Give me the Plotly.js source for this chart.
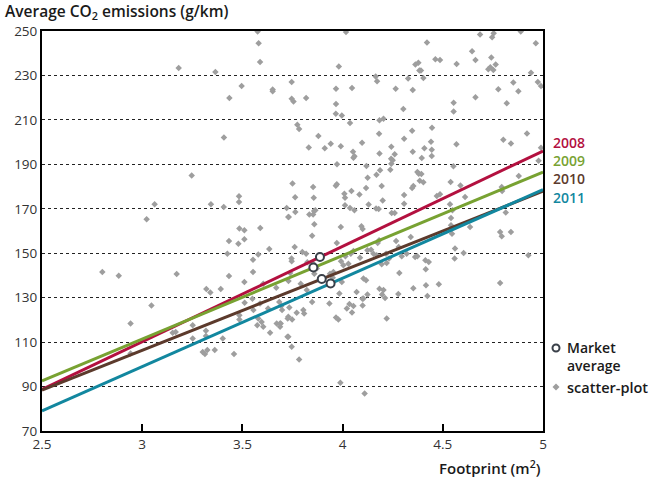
<!DOCTYPE html>
<html>
<head>
<meta charset="utf-8">
<script src="https://cdn.plot.ly/plotly-3.0.1.min.js"></script>
<style>html,body{margin:0;padding:0;background:#fff;}#chart{width:664px;height:480px;}</style>
</head>
<body>
<div id="chart"></div>
<script>
// ---- Data ----
const years = ['2008', '2009', '2010', '2011'];
const lineColors = ['#b3103f', '#78a232', '#5c3a2c', '#12879f'];
const lineX = [2.5, 5];
const line2008 = [88.7, 196.0];
const line2009 = [92.6, 186.5];
const line2010 = [88.4, 177.9];
const line2011 = [79.0, 178.6];

const marketX = [3.887, 3.854, 3.896, 3.94];
const marketY = [148.3, 143.6, 138.4, 136.4];

const scatterX = [
 3.576,3.581,3.588,3.182,3.365,3.496,3.651,3.651,3.435,3.408,3.247,3.062,3.343,3.483,3.483,3.407,3.022,3.729,
 3.485,3.510,3.589,3.433,3.480,3.510,3.634,3.425,3.579,3.553,2.801,2.883,3.172,3.433,3.553,3.510,3.604,3.320,3.340,3.392,3.669,3.046,3.550,3.511,3.588,3.628,3.684,3.694,3.734,3.729,3.555,3.485,3.485,3.579,3.596,3.574,3.604,3.671,3.691,3.688,3.638,2.942,3.252,3.152,3.167,3.318,3.318,3.252,3.325,3.302,3.313,3.362,3.402,3.458,3.729,2.942,
 4.017,4.686,4.746,4.754,4.889,4.964,4.421,4.646,4.663,4.742,4.737,4.727,4.764,4.752,4.463,4.486,4.569,4.363,4.378,4.383,4.391,4.403,4.327,3.981,4.165,4.172,3.746,3.746,3.755,3.818,3.967,4.047,4.265,4.350,4.554,4.554,4.663,4.777,4.852,4.877,4.940,4.974,4.990,4.819,3.967,3.966,3.996,4.037,4.184,4.204,4.303,4.446,4.347,4.307,4.182,3.774,3.783,3.879,3.831,3.911,3.941,3.991,4.052,4.054,4.059,4.097,4.243,4.260,4.184,4.242,4.250,4.243,4.238,4.350,4.408,4.445,4.445,4.441,4.395,4.568,4.920,4.802,4.840,4.990,4.978,4.879,4.553,4.373,4.380,4.393,4.403,4.385,4.353,4.347,3.972,4.119,4.125,4.169,4.187,4.195,4.117,3.750,3.853,3.856,3.763,3.966,3.971,4.009,4.012,4.044,4.012,4.084,4.130,4.200,4.307,4.307,4.539,4.588,4.470,4.486,4.611,4.794,4.796,4.814,3.721,3.731,3.764,3.834,3.853,3.858,3.864,4.037,4.059,4.167,4.180,4.245,4.260,4.541,4.548,4.536,
 3.859,3.848,3.991,4.094,4.100,3.971,3.761,3.799,3.818,3.745,3.746,3.824,3.854,3.859,3.871,3.937,3.954,3.951,3.992,4.004,4.014,4.029,4.041,4.054,4.087,4.104,4.117,4.124,4.142,4.154,4.170,4.175,4.182,4.195,4.220,4.217,4.232,4.267,4.280,4.283,4.295,4.320,4.340,4.362,4.373,4.413,4.430,4.415,4.416,4.423,4.480,4.353,4.541,4.546,4.561,4.559,4.604,4.636,4.786,4.794,4.840,4.786,4.927,3.738,3.730,3.791,3.821,3.848,3.698,3.726,3.748,3.771,3.804,3.808,3.688,3.934,3.967,3.979,4.021,4.034,4.047,4.054,4.070,4.099,4.100,4.124,4.184,4.204,4.197,4.220,4.212,4.278,4.104,3.725,3.746,3.783,3.989,4.110,3.984,3.996
];
const scatterY = [
 249.8,244.5,236.0,233.4,231.5,225.3,223.7,222.9,219.9,202.1,185.0,172.0,172.0,175.6,173.1,170.8,165.3,166.3,
 161.1,160.3,161.4,155.5,154.3,156.3,151.9,149.8,149.4,147.1,141.6,139.9,140.7,139.8,141.6,137.1,136.3,133.9,132.3,133.9,134.5,126.5,129.5,127.7,127.4,125.1,128.1,126.2,125.6,121.4,124.4,122.1,120.2,120.6,119.1,117.6,116.9,118.4,118.4,116.9,114.2,118.4,117.6,114.2,114.6,115.1,112.8,111.6,106.4,105.6,104.6,106.4,111.6,104.6,112.4,104.9,
 249.5,248.4,247.2,249.0,249.8,244.5,244.8,240.9,237.0,238.1,233.7,232.8,234.9,232.5,237.3,236.9,235.1,234.9,235.7,232.2,232.2,228.8,228.6,234.0,229.5,227.4,227.0,219.5,218.3,219.9,224.0,224.3,224.0,223.5,217.7,213.8,220.2,223.8,226.8,222.9,231.2,227.0,225.2,217.5,217.1,212.8,212.0,208.6,209.8,210.5,214.9,206.5,205.1,201.5,203.8,207.8,205.9,202.7,197.6,197.2,199.3,198.1,195.7,193.0,193.6,199.7,197.9,194.5,194.9,192.5,191.8,190.3,187.6,195.7,197.2,196.6,193.7,200.2,192.8,199.0,203.9,201.1,199.4,197.5,191.6,184.7,189.1,186.5,185.8,185.6,181.9,182.6,180.3,179.3,190.0,189.2,184.0,185.3,187.3,180.3,179.3,181.4,179.8,175.0,175.2,180.4,181.0,176.8,175.0,178.0,171.6,176.4,171.9,173.7,176.2,172.3,182.0,180.5,175.8,176.5,175.3,179.8,178.0,168.3,170.4,166.3,168.6,167.4,167.4,169.0,169.3,170.4,169.3,170.1,169.9,168.1,168.1,165.9,169.3,172.0,
 163.0,157.9,161.8,162.1,160.9,154.6,152.8,150.6,149.8,147.6,146.4,145.9,145.3,140.8,143.1,140.8,141.6,139.0,146.4,144.6,148.6,145.3,149.8,151.0,148.0,138.6,137.8,151.3,151.6,149.8,149.1,154.6,155.8,145.0,145.6,149.8,147.6,155.5,152.8,141.1,148.6,149.8,157.3,148.3,148.6,146.8,146.1,142.8,135.6,130.8,136.0,134.2,162.6,158.8,152.1,147.6,150.1,161.8,159.6,157.6,159.6,136.6,149.1,141.1,137.5,136.3,133.4,128.1,124.4,120.6,120.2,123.2,124.4,122.9,118.4,127.4,121.1,120.2,125.1,127.1,123.3,126.2,132.5,129.5,126.5,131.4,134.0,133.4,131.4,120.6,129.9,131.6,129.6,112.4,107.9,102.2,91.7,86.9,131.9,137.1
];

const xTicks = [2.5, 3, 3.5, 4, 4.5, 5];
const yTicks = [70, 90, 110, 130, 150, 170, 190, 210, 230, 250];

const FONT = '"Open Sans", "DejaVu Sans", sans-serif';
const lineYs = [line2008, line2009, line2010, line2011];

const traces = [];
traces.push({
  x: scatterX, y: scatterY, type: 'scatter', mode: 'markers', name: 'scatter-plot',
  marker: {symbol: 'diamond', size: 5, color: '#9e9e9e'}, hoverinfo: 'skip', showlegend: false
});
years.forEach((yr, i) => {
  traces.push({
    x: lineX, y: lineYs[i], type: 'scatter', mode: 'lines', name: yr,
    line: {color: lineColors[i], width: 3}, showlegend: false
  });
});
traces.push({
  x: marketX, y: marketY, type: 'scatter', mode: 'markers', name: 'Market average',
  marker: {symbol: 'circle', size: 8, color: '#ffffff', line: {color: '#3a4049', width: 2}},
  showlegend: false
});

// helpers for paper coordinates
const L = 42, R = 543, T = 31, B = 431;
const px = v => (v - L) / (R - L);
const py = v => (B - v) / (B - T);

const annotations = [];
// year labels as one stacked block
annotations.push({
  xref: 'paper', yref: 'paper', x: px(551), y: py(170), xanchor: 'left', yanchor: 'middle', align: 'left',
  text: years.map((yr, i) => `<span style="color:${lineColors[i]}">${yr}</span>`).join('<br>'),
  showarrow: false, font: {family: FONT, size: 14, color: lineColors[0], weight: 600}
});
annotations.push({
  xref: 'paper', yref: 'paper', x: px(565), y: py(356.5), xanchor: 'left', yanchor: 'middle', align: 'left',
  text: 'Market<br>average', showarrow: false,
  font: {family: FONT, size: 14, color: '#1a1a1a', weight: 600}
});
annotations.push({
  xref: 'paper', yref: 'paper', x: px(565), y: py(387), xanchor: 'left', yanchor: 'middle',
  text: 'scatter-plot', showarrow: false, font: {family: FONT, size: 14.5, color: '#1a1a1a', weight: 600}
});
annotations.push({
  xref: 'paper', yref: 'paper', x: px(3), y: py(12), xanchor: 'left', yanchor: 'middle',
  text: 'Average CO<sub>2</sub> emissions (g/km)', showarrow: false,
  font: {family: FONT, size: 15.5, color: '#1a1a1a', weight: 600}
});
annotations.push({
  xref: 'paper', yref: 'paper', x: 1, y: py(467), xanchor: 'right', yanchor: 'middle',
  text: 'Footprint (m<sup>2</sup>)', showarrow: false,
  font: {family: FONT, size: 15, color: '#1a1a1a', weight: 600}
});

const shapes = [
  {type: 'circle', xref: 'paper', yref: 'paper', xsizemode: 'pixel', ysizemode: 'pixel',
   xanchor: px(556), yanchor: py(348), x0: -3.5, x1: 3.5, y0: -3.5, y1: 3.5,
   fillcolor: '#ffffff', line: {color: '#3a4049', width: 2}},
  {type: 'path', xref: 'paper', yref: 'paper', xsizemode: 'pixel', ysizemode: 'pixel',
   xanchor: px(556), yanchor: py(387), path: 'M0,3.5 L3.5,0 L0,-3.5 L-3.5,0 Z',
   fillcolor: '#9e9e9e', line: {width: 0}}
];

const layout = {
  width: 664, height: 480,
  margin: {l: L, r: 664 - R, t: T, b: 480 - B, pad: 0},
  paper_bgcolor: '#ffffff', plot_bgcolor: '#ffffff',
  showlegend: false,
  font: {family: FONT, color: '#333333', size: 13.5},
  xaxis: {
    range: [2.5, 5], tickvals: xTicks, ticktext: xTicks.map(String),
    showgrid: false, zeroline: false,
    showline: true, linecolor: '#000000', linewidth: 2, mirror: true,
    ticks: 'inside', ticklen: 7, tickwidth: 2, tickcolor: '#000000',
    tickfont: {family: FONT, size: 13.5, color: '#333333'}
  },
  yaxis: {
    range: [70, 250], tickvals: yTicks, ticktext: yTicks.map(String),
    showgrid: true, gridcolor: '#222222', gridwidth: 1.2, griddash: 'dot',
    zeroline: false,
    showline: true, linecolor: '#000000', linewidth: 2, mirror: true,
    ticks: '', tickfont: {family: FONT, size: 13.5, color: '#333333'}
  },
  annotations: annotations,
  shapes: shapes
};

Plotly.newPlot('chart', traces, layout, {displayModeBar: false, staticPlot: true});
</script>
</body>
</html>
